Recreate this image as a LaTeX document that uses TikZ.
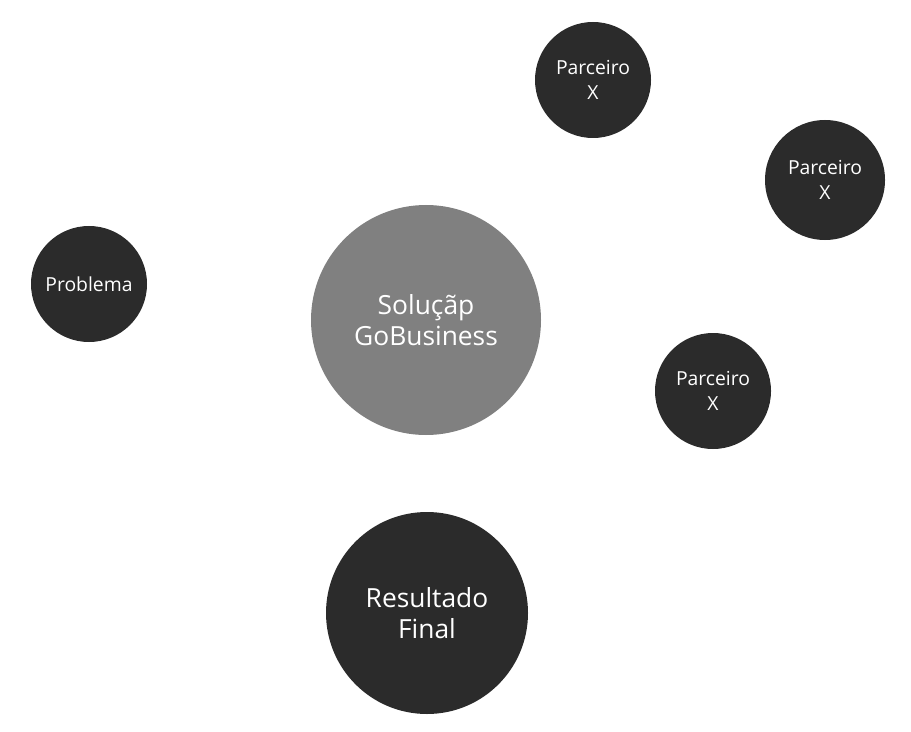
\documentclass[tikz,border=0pt]{standalone}
\usepackage{fontspec}
\setmainfont{Open Sans}
\usepackage{tikz}
\usepackage{xcolor}
\definecolor{darkdot}{HTML}{2B2B2B}
\definecolor{greydot}{HTML}{808080}
\begin{document}
\begin{tikzpicture}[
        bubble/.style={circle, fill=darkdot, text=white, align=center, inner sep=0pt},
        small/.style={bubble, minimum size=2.32cm, font=\fontsize{11}{14.5}\selectfont},
        big/.style={bubble, font=\fontsize{15}{18}\selectfont}]
        \useasboundingbox (0, 0) rectangle (18.22, -14.64);
		\node[small] (parc1) at (11.86, -1.60) {Parceiro\\X};
		\node[small, minimum size=2.40cm] (parc2) at (16.50, -3.60) {Parceiro\\X};
		\node[small] (prob) at (1.78, -5.68) {Problema};
		\node[big, fill=greydot, minimum size=4.60cm] (sol) at (8.52, -6.40) {Soluçãp\\GoBusiness};
		\node[small] (parc3) at (14.26, -7.82) {Parceiro\\X};
		\node[big, minimum size=4.04cm] (res) at (8.54, -12.26) {Resultado\\Final};
    \end{tikzpicture}
\end{document}
